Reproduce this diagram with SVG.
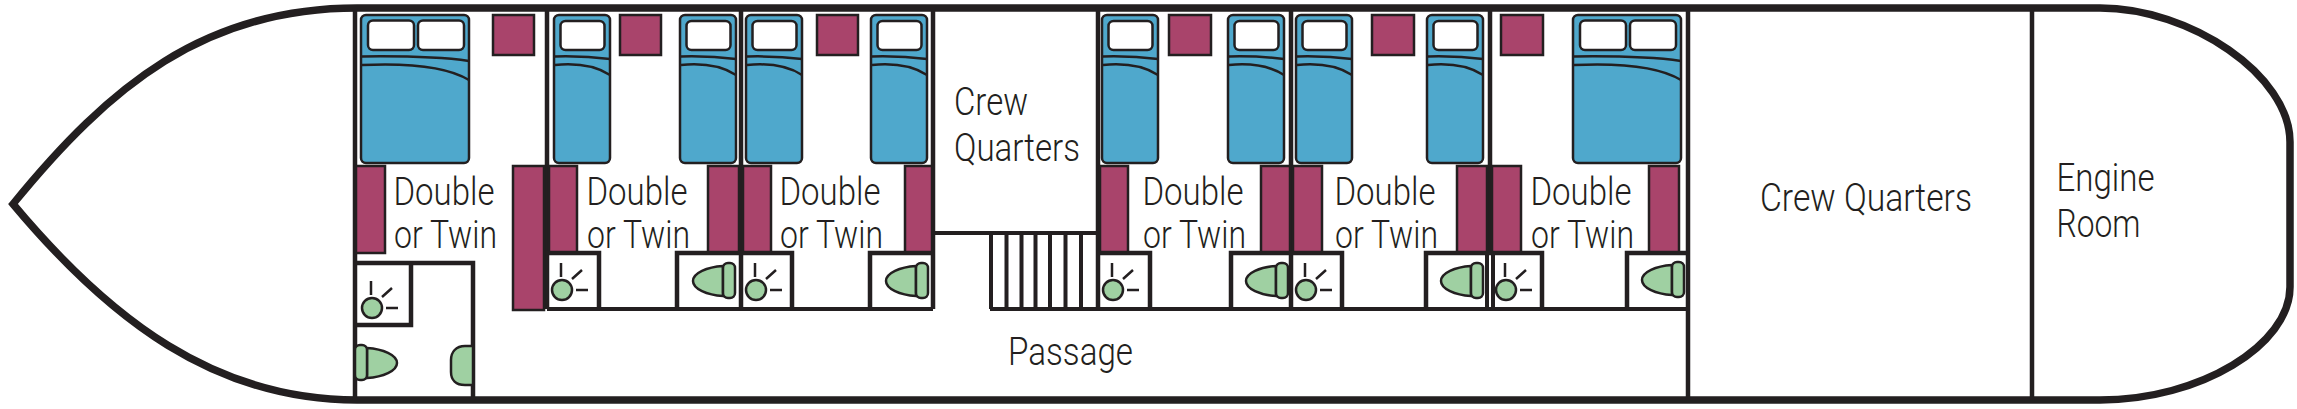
<svg xmlns="http://www.w3.org/2000/svg" width="2297" height="409" viewBox="0 0 2297 409">
<style>
.hull{fill:none;stroke:#231f20;stroke-width:7.5;stroke-linejoin:miter}
.w{fill:none;stroke:#231f20;stroke-width:4.500}
.w3{fill:none;stroke:#231f20;stroke-width:4}
.bed{fill:#4fa8cc;stroke:#231f20;stroke-width:2.5}
.pil{fill:#fff;stroke:#231f20;stroke-width:2.5}
.ln{fill:none;stroke:#231f20;stroke-width:2.5}
.ward{fill:#a9446b;stroke:#231f20;stroke-width:2.5}
.gr{fill:#9fd0a2;stroke:#231f20;stroke-width:2.5}
text{font-family:Roboto,"Liberation Sans",sans-serif;font-weight:300;font-size:39px;fill:#231f20}
</style>
<defs>
<g id="single">
<rect class="bed" x="0" y="15" width="56" height="148" rx="5"/>
<rect class="pil" x="6.500" y="21" width="44" height="29" rx="5"/>
<path class="ln" d="M1,56.500C20,56 40,57 56,59M1,65C22,63 42,66 56,75"/>
</g>
<g id="double">
<rect class="bed" x="0" y="15" width="108" height="148" rx="5"/>
<rect class="pil" x="7" y="20.500" width="46" height="29.500" rx="5"/>
<rect class="pil" x="57" y="20.500" width="46" height="29.500" rx="5"/>
<path class="ln" d="M1,56.500C40,56 80,57 108,61M1,65C45,63 85,66 108,80"/>
</g>
<g id="shower">
<circle class="gr" cx="0" cy="0" r="10"/>
<path class="ln" d="M-1,-27V-13M10,-11L20,-20M14,0H26"/>
</g>
<g id="toilet">
<path class="gr" d="M-12,-15C-28,-14 -42,-8 -42,0C-42,8 -28,14 -12,15Z"/>
<rect class="gr" x="-12" y="-18" width="12" height="35" rx="5"/>
</g>
</defs>
<rect width="2297" height="409" fill="#fff"/>
<g id="hull">
<path class="hull" d="M13,204C110,85 205,8 357,8H2100C2190,8 2290,75 2290,142V287C2290,345 2200,400 2100,400H357C215,400 110,320 13,204Z"/>
</g>
<g id="connectors">
<path class="w" d="M355,8V400M547,8V309M741,8V309M933,8V309M1098,8V309M1291,8V309M1490,8V253M1688,8V400M2032,8V400"/>
<path class="w3" d="M547,309H933M990,309H1688M933,233H1098M1487,253V309M1493,253V309"/>
</g>
<g id="stairs">
<path class="w3" d="M991,233V309M1006.500,233V309M1021.500,233V309M1035.500,233V309M1050,233V309M1065.500,233V309M1081,233V309"/>
</g>
<g id="cabin1">
<use href="#double" x="361"/>
<rect class="ward" x="493" y="15" width="41" height="40"/>
<rect class="ward" x="356" y="166" width="29" height="87"/>
<rect class="ward" x="513" y="166" width="31" height="144"/>
<path class="w" d="M355,263H473V400M355,325H411V263"/>
<use href="#shower" x="372" y="308"/>
<g transform="translate(355,363) scale(-1,1)"><use href="#toilet" x="0"/></g>
<path class="gr" d="M473,346H465C456,346 451,352 451,360V372C451,380 456,385 465,385H473Z"/>
<text x="393.500" y="205" textLength="101" lengthAdjust="spacingAndGlyphs">Double</text>
<text x="394" y="248" textLength="103" lengthAdjust="spacingAndGlyphs">or Twin</text>
</g>
<g id="cabin2">
<use href="#single" x="554"/><use href="#single" x="680"/>
<rect class="ward" x="620" y="15" width="41" height="40"/>
<rect class="ward" x="549" y="166" width="28" height="87"/>
<rect class="ward" x="708" y="166" width="31" height="87"/>
<path class="w" d="M547,253H599V309M677,309V253H741"/>
<use href="#shower" x="562" y="290"/><use href="#toilet" x="735" y="281"/>
<text x="586.500" y="205" textLength="101" lengthAdjust="spacingAndGlyphs">Double</text>
<text x="587" y="248" textLength="103" lengthAdjust="spacingAndGlyphs">or Twin</text>
</g>
<g id="cabin3">
<use href="#single" x="746"/><use href="#single" x="871"/>
<rect class="ward" x="743" y="166" width="28" height="87"/>
<rect class="ward" x="817" y="15" width="41" height="40"/>
<rect class="ward" x="905" y="166" width="27" height="87"/>
<path class="w" d="M741,253H792V309M870,309V253H933"/>
<use href="#shower" x="756" y="290"/><use href="#toilet" x="928" y="281"/>
<text x="779.500" y="205" textLength="101" lengthAdjust="spacingAndGlyphs">Double</text>
<text x="780" y="248" textLength="103" lengthAdjust="spacingAndGlyphs">or Twin</text>
</g>
<g id="crew-fwd">
<text x="954" y="115" textLength="74" lengthAdjust="spacingAndGlyphs">Crew</text>
<text x="954" y="161" textLength="126" lengthAdjust="spacingAndGlyphs">Quarters</text>
</g>
<g id="cabin4">
<use href="#single" x="1102"/><use href="#single" x="1228"/>
<rect class="ward" x="1169" y="15" width="42" height="40"/>
<rect class="ward" x="1100" y="166" width="28" height="87"/>
<rect class="ward" x="1261" y="166" width="29" height="87"/>
<path class="w" d="M1098,253H1150V309M1231,309V253H1291"/>
<use href="#shower" x="1113" y="290"/><use href="#toilet" x="1288" y="281"/>
<text x="1142.500" y="205" textLength="101" lengthAdjust="spacingAndGlyphs">Double</text>
<text x="1143" y="248" textLength="103" lengthAdjust="spacingAndGlyphs">or Twin</text>
</g>
<g id="cabin5">
<use href="#single" x="1296"/><use href="#single" x="1427"/>
<rect class="ward" x="1372" y="15" width="42" height="40"/>
<rect class="ward" x="1293" y="166" width="29" height="87"/>
<rect class="ward" x="1457" y="166" width="30" height="87"/>
<path class="w" d="M1291,253H1342V309M1426,309V253H1490"/>
<use href="#shower" x="1306" y="290"/><use href="#toilet" x="1483" y="281"/>
<text x="1334.500" y="205" textLength="101" lengthAdjust="spacingAndGlyphs">Double</text>
<text x="1335" y="248" textLength="103" lengthAdjust="spacingAndGlyphs">or Twin</text>
</g>
<g id="cabin6">
<use href="#double" x="1573"/>
<rect class="ward" x="1501" y="15" width="42" height="40"/>
<rect class="ward" x="1492" y="166" width="29" height="87"/>
<rect class="ward" x="1649" y="166" width="30" height="87"/>
<path class="w" d="M1490,253H1542V309M1627,309V253H1688"/>
<use href="#shower" x="1506" y="290"/><use href="#toilet" x="1684" y="280"/>
<text x="1530.500" y="205" textLength="101" lengthAdjust="spacingAndGlyphs">Double</text>
<text x="1531" y="248" textLength="103" lengthAdjust="spacingAndGlyphs">or Twin</text>
</g>
<g id="passage"><text x="1008" y="365" textLength="125" lengthAdjust="spacingAndGlyphs">Passage</text></g>
<g id="crew-aft"><text x="1760" y="211" textLength="212" lengthAdjust="spacingAndGlyphs">Crew Quarters</text></g>
<g id="engine">
<text x="2056.500" y="191" textLength="98" lengthAdjust="spacingAndGlyphs">Engine</text>
<text x="2056.500" y="237" textLength="84" lengthAdjust="spacingAndGlyphs">Room</text>
</g>
</svg>
